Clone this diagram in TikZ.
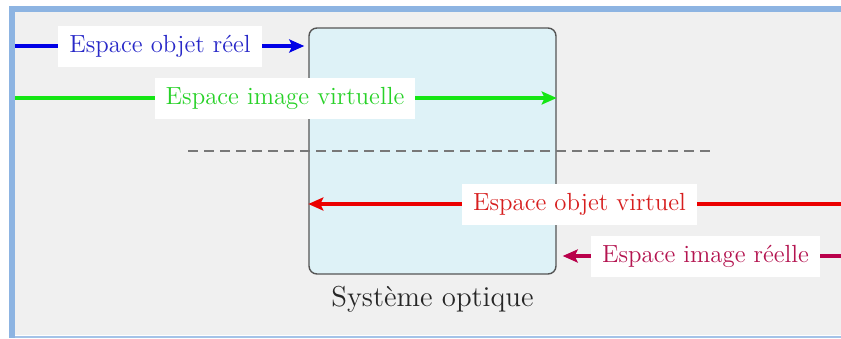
\documentclass[tikz,border=0pt]{standalone}
\usetikzlibrary{arrows.meta,calc}
\definecolor{bgc}{RGB}{240,240,240}
\definecolor{framec}{RGB}{141,180,226}
\definecolor{boxfill}{RGB}{222,242,247}
\definecolor{boxline}{RGB}{85,85,85}
\definecolor{dashc}{RGB}{120,120,120}
\definecolor{rayblue}{RGB}{0,0,230}
\definecolor{txtblue}{RGB}{40,40,200}
\definecolor{raygreen}{RGB}{20,230,20}
\definecolor{txtgreen}{RGB}{40,210,40}
\definecolor{rayred}{RGB}{235,0,0}
\definecolor{txtred}{RGB}{215,30,30}
\definecolor{raypurple}{RGB}{185,0,75}
\definecolor{txtpurple}{RGB}{180,20,80}
\begin{document}
\begin{tikzpicture}[x=0.5pt,y=-0.5pt,
  sysbox/.style={draw=boxline,line width=0.7pt,fill=boxfill,rounded corners=4pt,
    minimum width=123.5pt,minimum height=123pt,inner sep=0pt},
  lab/.style={fill=white,inner xsep=5.5pt,minimum height=20.5pt,
    font=\fontsize{12.4}{15}\selectfont},
  ray/.style={line width=2pt,-{Stealth[length=7.5pt,width=6.5pt,inset=1.5pt]}},
  caption/.style={font=\fontsize{14.4}{17}\selectfont,text=black!85}]
\useasboundingbox (0,0) rectangle (841,338);
% page background and frame
\fill[white] (0,0) rectangle (841,338);
\fill[bgc] (15,12) rectangle (841,335);
\fill[framec] (9,6) rectangle (841,12);
\fill[framec] (9,6) rectangle (15,338);
\fill[framec!80] (15,336) rectangle (841,338);
% optical system
\node[sysbox] (sys) at (432.5,151) {};
\node[caption] (cap) at (432.5,299) {Système optique};
% optical axis
\coordinate (d1) at (188,151);
\coordinate (d2) at (712,151);
\draw[dashc,line width=0.6pt,dash pattern=on 5pt off 3pt] (d1) -- (d2);
% ray end points
\coordinate (b0) at (15,46);
\coordinate (g0) at (15,98);
\coordinate (r0) at (841,204);
\coordinate (p0) at (841,256);
% rays
\draw[ray,rayblue,shorten >=2pt] (b0) -- (sys.west |- b0);
\draw[ray,raygreen] (g0) -- (sys.east |- g0);
\draw[ray,rayred] (r0) -- (sys.west |- r0);
\draw[ray,raypurple,shorten >=3pt] (p0) -- (sys.east |- p0);
% labels
\node[lab,text=txtblue] (lb) at (160,46) {Espace objet réel};
\node[lab,text=txtgreen] (lg) at (285,98) {Espace image virtuelle};
\node[lab,text=txtred] (lr) at (579.5,204) {Espace objet virtuel};
\node[lab,text=txtpurple] (lp) at (705.5,256) {Espace image réelle};
\end{tikzpicture}
\end{document}
